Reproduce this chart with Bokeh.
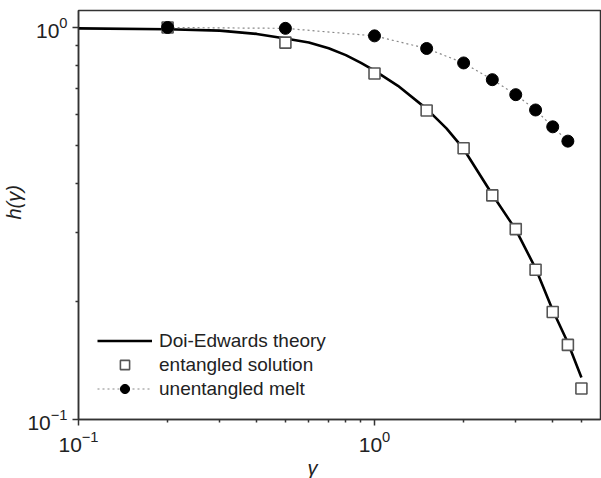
from bokeh.plotting import figure
from bokeh.models import (Legend, LegendItem, FixedTicker, LogTickFormatter, Title)
from bokeh.embed import file_html
from bokeh.resources import INLINE

# Doi-Edwards damping function
theory_gamma = [0.1, 0.2, 0.3, 0.4, 0.5, 0.6, 0.7, 0.8, 0.9, 1.0, 1.2, 1.5, 1.75,
                2.0, 2.5, 3.0, 3.5, 4.0, 4.5, 5.0]
theory_h = [0.995, 0.99, 0.982, 0.963, 0.937, 0.916, 0.885, 0.85, 0.812, 0.776, 0.71,
            0.62, 0.553, 0.49, 0.375, 0.305, 0.243, 0.19, 0.157, 0.128]

# entangled solution (open squares)
sol_gamma = [0.2, 0.5, 1.0, 1.5, 2.0, 2.5, 3.0, 3.5, 4.0, 4.5, 5.0]
sol_h = [1.0, 0.915, 0.763, 0.614, 0.492, 0.373, 0.306, 0.241, 0.188, 0.155, 0.12]

# unentangled melt (filled circles)
melt_gamma = [0.2, 0.5, 1.0, 1.5, 2.0, 2.5, 3.0, 3.5, 4.0, 4.5]
melt_h = [1.0, 0.995, 0.952, 0.884, 0.812, 0.736, 0.674, 0.616, 0.558, 0.513]

major_ticks = [0.1, 1.0]
x_minor = [0.2, 0.3, 0.4, 0.5, 0.6, 0.7, 0.8, 0.9, 2, 3, 4, 5]
y_minor = [0.2, 0.3, 0.4, 0.5, 0.6, 0.7, 0.8, 0.9]

FONT = "Liberation Sans"
INK = "#222222"

p = figure(width=601, height=478, x_axis_type="log", y_axis_type="log",
           x_range=(0.1, 5.8), y_range=(0.1, 1.105),
           output_backend="svg", toolbar_location=None,
           min_border_left=74, min_border_right=1,
           min_border_top=10, min_border_bottom=58)

p.grid.visible = False
p.outline_line_color = "#333333"
p.outline_line_width = 1.5
p.background_fill_color = "white"
p.border_fill_color = "white"

for ax, minor in ((p.xaxis[0], x_minor), (p.yaxis[0], y_minor)):
    ax.ticker = FixedTicker(ticks=major_ticks, minor_ticks=minor)
    ax.formatter = LogTickFormatter()
    ax.axis_line_color = "#333333"
    ax.axis_line_width = 1.5
    ax.major_tick_line_color = "#333333"
    ax.minor_tick_line_color = "#333333"
    ax.major_tick_line_width = 1.5
    ax.minor_tick_line_width = 1.5
    ax.major_tick_out = 6
    ax.major_tick_in = 0
    ax.minor_tick_out = 3
    ax.minor_tick_in = 0
    ax.major_label_text_font = FONT
    ax.major_label_text_font_size = "21px"
    ax.major_label_text_color = INK
    ax.major_label_standoff = 5

# axis titles as side titles, so they can be shifted along the axes
x_title = Title(text="γ", align="left", offset=229, standoff=0,
                text_font=FONT, text_font_style="italic", text_font_size="20px",
                text_color=INK)
y_title = Title(text="h(γ)", align="left", offset=200, standoff=0,
                text_font=FONT, text_font_style="italic", text_font_size="20px",
                text_color=INK)
p.add_layout(x_title, "below")
p.add_layout(y_title, "left")

theory = p.line(theory_gamma, theory_h, line_color="black", line_width=2.6)
squares = p.scatter(sol_gamma, sol_h, marker="square", size=11,
                    fill_color="white", line_color="#555555", line_width=1.6)
melt_line = p.line(melt_gamma, melt_h, line_color="#888888", line_width=1.2,
                   line_dash="2 3")
circles = p.scatter(melt_gamma, melt_h, marker="circle", size=12,
                    fill_color="black", line_color="black")

legend = Legend(items=[
    LegendItem(label="Doi-Edwards theory", renderers=[theory]),
    LegendItem(label="entangled solution", renderers=[squares]),
    LegendItem(label="unentangled melt", renderers=[melt_line, circles]),
], location=(19, 19))
legend.border_line_color = None
legend.background_fill_alpha = 0
legend.padding = 0
legend.margin = 0
legend.spacing = 1
legend.glyph_width = 55
legend.glyph_height = 23
legend.label_height = 23
legend.label_standoff = 7
legend.label_text_font = FONT
legend.label_text_font_size = "19px"
legend.label_text_color = INK
p.add_layout(legend)

open("out.html", "w").write(file_html(p, INLINE))
